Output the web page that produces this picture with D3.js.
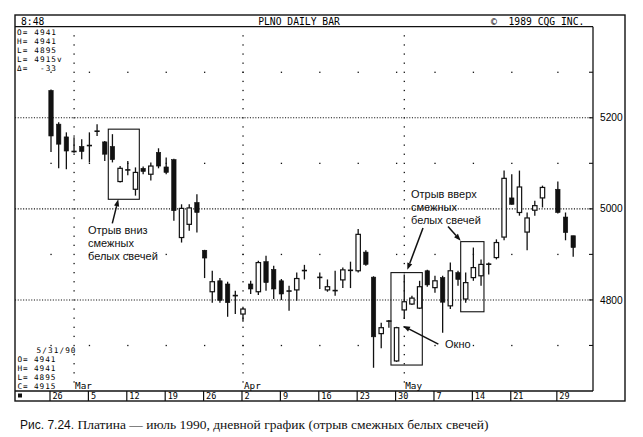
<!DOCTYPE html>
<html><head><meta charset="utf-8">
<script src="https://cdn.jsdelivr.net/npm/d3@7"></script>
<style>body{margin:0;background:#fff} svg{display:block}</style>
</head><body>
<svg id="c" width="643" height="437"></svg>
<script>
// ---- data (trading-day slots, Feb 26 – May 31 1990; null = holiday) ----
const dates = ["2/26","2/27","2/28","3/1","3/2",
 "3/5","3/6","3/7","3/8","3/9","3/12","3/13","3/14","3/15","3/16",
 "3/19","3/20","3/21","3/22","3/23","3/26","3/27","3/28","3/29","3/30",
 "4/2","4/3","4/4","4/5","4/6","4/9","4/10","4/11","4/12","4/13",
 "4/16","4/17","4/18","4/19","4/20","4/23","4/24","4/25","4/26","4/27",
 "4/30","5/1","5/2","5/3","5/4","5/7","5/8","5/9","5/10","5/11",
 "5/14","5/15","5/16","5/17","5/18","5/21","5/22","5/23","5/24","5/25",
 "5/28","5/29","5/30","5/31"];
const open  = [5260,5186,5158,5127,5137, 5138,5170,5147,5137,5060, 5085,5043,5089,5076,5124,
 5092,5108,4937,4966,5014, 4909,4818,4842,4835,4810, 4769,4835,4818,4884,4867,
 4842,4820,4822,4864,null, 4850,4822,4820,4844,4866, 4864,4905,4850,4726,4754,
 4666,4778,4791,4782,4864, 4827,4849,4787,4860,4802, 4849,4853,4878,4893,4938,
 5024,4992,4949,4997,5024, null,5043,4982,4941];
const high  = [5262,5190,5168,5157,5153, 5168,5186,5149,5164,5094, 5105,5091,5093,5102,5133,
 5113,5110,5010,5010,5032, 4910,4864,4848,4840,4820, 4785,4842,4886,4897,4875,
 4846,4831,4860,4877,null, 4860,4845,4864,4871,4884, 4956,4909,4852,4750,4756,
 4741,4856,4809,4842,4866, 4853,4853,4882,4864,4860, 4915,4889,4882,4933,5084,
 5076,5084,4992,5018,5051, null,5060,4992,4941];
const low   = [5125,5089,5087,5123,5109, 5102,5160,5105,5102,5058, 5074,5029,5076,5062,5089,
 5076,4974,4926,4952,4948, 4848,4794,4794,4763,4769, 4752,4813,4811,4820,4802,
 4800,4776,4798,4845,null, 4824,4818,4809,4826,4826, 4860,4875,4651,4694,4739,
 4664,4758,4789,4780,4829, 4816,4728,4780,4831,4794, 4842,4831,4856,4889,4931,
 5009,4985,4909,4985,5003, null,4990,4931,4895];
const close = [5160,5142,5127,5125,5126, 5140,5171,5120,5108,5089, 5086,5080,5082,5094,5094,
 5080,4996,5001,5002,4992, 4892,4840,4799,4794,4809, 4780,4824,4882,4838,4824,
 4813,4819,4847,4865,null, 4849,4829,4821,4866,4864, 4944,4878,4719,4739,4753,
 4739,4796,4804,4829,4833, 4842,4795,4864,4845,4838, 4871,4878,4879,4926,5067,
 5010,5048,4980,5007,5047, null,4992,4948,4915];

const weekStarts = ["2/26","3/5","3/12","3/19","3/26","4/2","4/9","4/16","4/23","4/30","5/7","5/14","5/21","5/29"];
const weekLabels = ["26","5","12","19","26","2","9","16","23","30","7","14","21","29"];
const monthStarts = ["3/1","4/2","5/1"];
const monthLabels = ["Mar","Apr","May"];
const priceLabels = [4800,5000,5200];
const minorPrices = [4700,4900,5100,5300];
const axisTicks = [4700,4800,4900,5000,5100,5200,5300];

const topInfo = ["O= 4941","H= 4941","L= 4895","L= 4915v","\u0394=  -33"];
const bottomInfo = ["O= 4941","H= 4941","L= 4895","C= 4915"];

// annotation boxes in (slot index, price)
const boxes = [
  {x0:7.46, x1:11.5, p0:5175, p1:5021},
  {x0:44.27, x1:48.35, p0:4860, p1:4657},
  {x0:53.35, x1:56.38, p0:4928, p1:4774}
];
const arrows = [
  {x0:7.98, p0:4968, x1:8.76, p1:5021},
  {x0:48.44, p0:4958, x1:46.40, p1:4866},
  {x0:51.70, p0:4961, x1:53.35, p1:4930},
  {x0:50.44, p0:4703, x1:45.84, p1:4743}
];
const notes = [
  {x:4.82, p:4945, lines:["Отрыв вниз","смежных","белых свечей"]},
  {x:46.88, p:5024, lines:["Отрыв вверх","смежных","белых свечей"]},
  {x:51.31, p:4694.5, lines:["Окно"]}
];

// ---- layout ----
const svg = d3.select("#c");
const L=15, R=625, T=15, B=401, HB=26.7, PR=593, DB=391;
const x = d3.scalePoint().domain(dates).range([51, 573.2]);
const xi = d3.scaleLinear().domain([0, dates.length-1]).range([51, 573.2]);
const y = d3.scaleLinear().domain([4600, 5400]).range([DB, HB]);
const mono = "'DejaVu Sans Mono', monospace";

// frame
const g = svg.append("g");
g.append("rect").attr("x",L).attr("y",T).attr("width",R-L).attr("height",B-T)
  .attr("fill","none").attr("stroke","#111").attr("stroke-width",1.4);
g.append("line").attr("x1",L).attr("x2",PR).attr("y1",HB).attr("y2",HB).attr("stroke","#111").attr("stroke-width",1.3);
g.append("line").attr("x1",PR).attr("x2",PR).attr("y1",HB).attr("y2",DB).attr("stroke","#111").attr("stroke-width",1.3);
g.append("line").attr("x1",L).attr("x2",PR).attr("y1",DB).attr("y2",DB).attr("stroke","#111").attr("stroke-width",1.3);

// header
svg.append("text").attr("x",21).attr("y",24.5).attr("font-family",mono).attr("font-size",9.7).text("8:48");
svg.append("text").attr("x",299).attr("y",24.5).attr("text-anchor","middle").attr("font-family",mono).attr("font-size",9.7).text("PLNO DAILY BAR");
svg.append("text").attr("x",491).attr("y",24.5).attr("font-family",mono).attr("font-size",9.7).attr("xml:space","preserve").text("\u00A9  1989 CQG INC.");

// grid: dense dotted lines
svg.append("g").selectAll("line").data(priceLabels).join("line")
  .attr("x1",L).attr("x2",PR).attr("y1",d=>y(d)).attr("y2",d=>y(d))
  .attr("stroke","#111").attr("stroke-width",1.1).attr("stroke-dasharray","1.1,1.6");
// month vertical dotted
const vdots = d3.range(4620, 5400, 20);
monthStarts.forEach(m=>{
  svg.append("g").selectAll("rect").data(vdots).join("rect")
    .attr("x",x(m)-0.6).attr("y",d=>y(d)-0.6).attr("width",1.3).attr("height",1.3).attr("fill","#111");
});
// sparse dots
const sp = [];
minorPrices.forEach(p=>weekStarts.forEach(w=>sp.push([w,p])));
svg.append("g").selectAll("rect").data(sp).join("rect")
  .attr("x",d=>x(d[0])-0.6).attr("y",d=>y(d[1])-0.6).attr("width",1.3).attr("height",1.3).attr("fill","#111");

// right axis ticks + labels
svg.append("g").selectAll("line").data(axisTicks).join("line")
  .attr("x1",PR-4).attr("x2",PR).attr("y1",d=>y(d)).attr("y2",d=>y(d)).attr("stroke","#111").attr("stroke-width",1.1);
svg.append("g").selectAll("text").data(priceLabels).join("text")
  .attr("x",600).attr("y",d=>y(d)+3.6).attr("font-family","'Liberation Sans', Arial, sans-serif").attr("font-size",10.2)
  .text(d=>d);

// candles
const data = dates.map((d,i)=>({d, o:open[i], h:high[i], l:low[i], c:close[i]})).filter(e=>e.o!=null);
const cg = svg.append("g");
const bw = 4.4;
cg.selectAll("line.w").data(data).join("line").attr("class","w")
  .attr("x1",e=>x(e.d)).attr("x2",e=>x(e.d)).attr("y1",e=>y(e.h)).attr("y2",e=>y(e.l))
  .attr("stroke","#111").attr("stroke-width",1.3);
const bodies = data.filter(e=>Math.abs(e.o-e.c)>=4);
const dojis = data.filter(e=>Math.abs(e.o-e.c)<4);
cg.selectAll("rect.b").data(bodies).join("rect").attr("class","b")
  .attr("x",e=>x(e.d)-bw/2).attr("width",bw)
  .attr("y",e=>y(Math.max(e.o,e.c))).attr("height",e=>y(Math.min(e.o,e.c))-y(Math.max(e.o,e.c)))
  .attr("fill",e=>e.c<e.o?"#111":"#fff").attr("stroke","#111").attr("stroke-width",e=>e.c<e.o?0.6:1.2);
cg.selectAll("line.dj").data(dojis).join("line").attr("class","dj")
  .attr("x1",e=>x(e.d)-2.6).attr("x2",e=>x(e.d)+2.6).attr("y1",e=>y((e.o+e.c)/2)).attr("y2",e=>y((e.o+e.c)/2))
  .attr("stroke","#111").attr("stroke-width",1.6);

// info texts
svg.append("g").selectAll("text").data(topInfo).join("text")
  .attr("x",17).attr("y",(d,i)=>34.8+i*9).attr("font-family",mono).attr("font-size",7.7)
  .attr("letter-spacing",1.1).attr("xml:space","preserve").text(d=>d);
svg.append("text").attr("x",36.5).attr("y",352.8).attr("font-family",mono).attr("font-size",7.7)
  .attr("letter-spacing",1.1).text("5/31/90");
svg.append("g").selectAll("text").data(bottomInfo).join("text")
  .attr("x",17.5).attr("y",(d,i)=>361.8+i*9).attr("font-family",mono).attr("font-size",7.7)
  .attr("letter-spacing",0.9).text(d=>d);
svg.append("g").selectAll("text").data(monthStarts).join("text")
  .attr("x",d=>x(d)+1).attr("y",389).attr("font-family",mono).attr("font-size",9.3).text((d,i)=>monthLabels[i]);

// date row
svg.append("g").selectAll("line").data(weekStarts).join("line")
  .attr("x1",d=>x(d)-1).attr("x2",d=>x(d)-1).attr("y1",DB).attr("y2",B).attr("stroke","#111").attr("stroke-width",1.2);
svg.append("g").selectAll("text").data(weekStarts).join("text")
  .attr("x",d=>x(d)+1.5).attr("y",399.3).attr("font-family",mono).attr("font-size",8.5).text((d,i)=>weekLabels[i]);
svg.append("rect").attr("x",18).attr("y",393.5).attr("width",4).attr("height",4).attr("fill","#111");

// annotations
svg.append("g").selectAll("rect").data(boxes).join("rect")
  .attr("x",b=>xi(b.x0)).attr("width",b=>xi(b.x1)-xi(b.x0))
  .attr("y",b=>y(b.p0)).attr("height",b=>y(b.p1)-y(b.p0))
  .attr("fill","none").attr("stroke","#111").attr("stroke-width",1.1);
const ag = svg.append("g");
arrows.forEach(a=>{
  const x0=xi(a.x0), y0=y(a.p0), x1=xi(a.x1), y1=y(a.p1);
  const ang=Math.atan2(y1-y0,x1-x0), len=7, w=2.6;
  const bx=x1-len*Math.cos(ang), by=y1-len*Math.sin(ang);
  ag.append("line").attr("x1",x0).attr("y1",y0).attr("x2",bx).attr("y2",by).attr("stroke","#111").attr("stroke-width",1.5);
  ag.append("path").attr("d",`M${x1},${y1}L${bx-w*Math.sin(ang)},${by+w*Math.cos(ang)}L${bx+w*Math.sin(ang)},${by-w*Math.cos(ang)}Z`).attr("fill","#111");
});
notes.forEach(n=>{
  n.lines.forEach((s,i)=>{
    svg.append("text").attr("x",xi(n.x)).attr("y",y(n.p)+i*12.9).attr("font-family","'Liberation Sans', Arial, sans-serif")
      .attr("font-size",11).attr("fill","#111").text(s);
  });
});

// caption
const cap = svg.append("text").attr("x",20).attr("y",429).attr("font-size",13.5).attr("fill","#111");
cap.append("tspan").attr("font-family","'Liberation Sans Narrow','Liberation Sans', Arial, sans-serif").attr("font-size",12).text("Рис. 7.24.");
cap.append("tspan").attr("font-family","'Liberation Serif', 'Times New Roman', serif").text(" Платина — июль 1990, дневной график (отрыв смежных белых свечей)");
</script>
</body></html>
